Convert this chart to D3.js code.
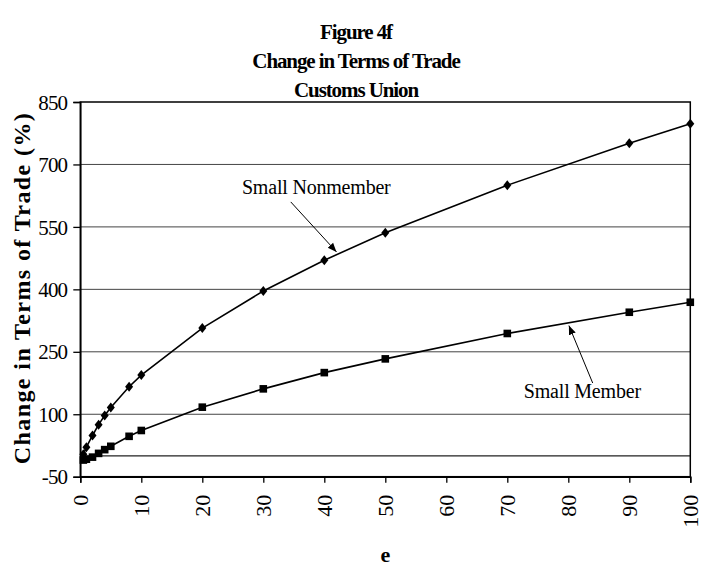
<!DOCTYPE html>
<html>
<head>
<meta charset="utf-8">
<script src="https://cdn.jsdelivr.net/npm/d3@7"></script>
<style>
  html, body { margin: 0; padding: 0; background: #fff; }
  svg { display: block; }
  svg text { font-family: "Liberation Serif", "Times New Roman", serif; }
</style>
</head>
<body>
<svg id="chart" width="713" height="567"></svg>
<script>
// ---- data ----
const titleLines = ["Figure 4f", "Change in Terms of Trade", "Customs Union"];
const xLabel = "e";
const yLabel = "Change in Terms of Trade (%)";
const eValues = [0.5, 1, 2, 3, 4, 5, 8, 10, 20, 30, 40, 50, 70, 90, 100];
const nonmemberValues = [4, 21, 49, 75, 97, 116, 166, 194, 307, 396, 470, 536, 650, 751, 798];
const memberValues = [-10, -8, -3, 6, 15, 23, 47, 61, 117, 161, 200, 233, 294, 345, 369];
const xTicks = [0, 10, 20, 30, 40, 50, 60, 70, 80, 90, 100];
const yTicks = [-50, 100, 250, 400, 550, 700, 850];
const seriesNames = ["Small Nonmember", "Small Member"];
// annotation anchors in data units: [textX, textY, arrowFromX, arrowFromY, arrowToX, arrowToY]
const nonmemberNote = [26.5, 628, 34.5, 610, 42.0, 490];
const memberNote = [82.3, 140, 84.0, 175, 80.1, 313];

// ---- layout ----
const svg = d3.select("#chart");
const pL = 80.3, pR = 690.3, pT = 102, pB = 476.7;
const serif = "'Liberation Serif', 'Times New Roman', serif";

const x = d3.scaleLinear().domain([0, 100]).range([pL, pR]);
const y = d3.scaleLinear().domain([-50, 850]).range([pB, pT]);

svg.append("defs").append("marker")
  .attr("id", "arrow")
  .attr("viewBox", "0 0 10 10")
  .attr("refX", 10).attr("refY", 5)
  .attr("markerWidth", 9).attr("markerHeight", 9)
  .attr("markerUnits", "userSpaceOnUse")
  .attr("orient", "auto")
  .append("path").attr("d", "M0,1 L10,5 L0,9 Z").attr("fill", "#000");

// gridlines
svg.append("g").selectAll("line").data(yTicks.filter(d => d !== -50 && d !== 850)).join("line")
  .attr("x1", pL).attr("x2", pR)
  .attr("y1", d => y(d)).attr("y2", d => y(d))
  .attr("stroke", "#444").attr("stroke-width", 1);

// zero line
svg.append("line")
  .attr("x1", pL).attr("x2", pR)
  .attr("y1", y(0)).attr("y2", y(0))
  .attr("stroke", "#222").attr("stroke-width", 1.2);

// plot frame
svg.append("rect")
  .attr("x", pL).attr("y", pT)
  .attr("width", pR - pL).attr("height", pB - pT)
  .attr("fill", "none").attr("stroke", "#000").attr("stroke-width", 1.5);

// axes
const yAxis = svg.append("g")
  .attr("transform", `translate(${pL},0)`)
  .call(d3.axisLeft(y).tickValues(yTicks).tickSize(7).tickPadding(6).tickFormat(d => String(d)));
yAxis.attr("font-family", null);
yAxis.select(".domain").attr("stroke-width", 1.5);
yAxis.selectAll(".tick line").attr("stroke-width", 1.3);
yAxis.selectAll("text")
  .style("font-family", serif)
  .attr("font-size", 21)
  .attr("letter-spacing", -0.8)
  .attr("fill", "#000")
  .attr("dy", "0.34em");

const xAxis = svg.append("g")
  .attr("transform", `translate(0,${pB})`)
  .call(d3.axisBottom(x).tickValues(xTicks).tickSize(6).tickFormat(d => String(d)));
xAxis.attr("font-family", null);
xAxis.select(".domain").attr("stroke-width", 1.5);
xAxis.selectAll(".tick line").attr("stroke-width", 1.3);
xAxis.selectAll("text")
  .style("font-family", serif)
  .attr("font-size", 22)
  .attr("fill", "#000")
  .attr("text-anchor", "end")
  .attr("transform", "rotate(-90)")
  .attr("x", -18)
  .attr("y", 0)
  .attr("dy", "0.34em");

// series
const nonmember = eValues.map((e, i) => ({ e, v: nonmemberValues[i] }));
const member = eValues.map((e, i) => ({ e, v: memberValues[i] }));
const line = d3.line().x(d => x(d.e)).y(d => y(d.v));

svg.append("path").datum(nonmember)
  .attr("d", line).attr("fill", "none").attr("stroke", "#000").attr("stroke-width", 1.6);
svg.append("path").datum(member)
  .attr("d", line).attr("fill", "none").attr("stroke", "#000").attr("stroke-width", 1.6);

svg.append("g").selectAll("path").data(nonmember).join("path")
  .attr("transform", d => `translate(${x(d.e)},${y(d.v)})`)
  .attr("d", "M0,-5 L4,0 L0,5 L-4,0 Z")
  .attr("fill", "#000");

svg.append("g").selectAll("rect").data(member).join("rect")
  .attr("x", d => x(d.e) - 3.8).attr("y", d => y(d.v) - 3.8)
  .attr("width", 7.6).attr("height", 7.6)
  .attr("fill", "#000");

// annotations
function note(cfg, label) {
  svg.append("text")
    .attr("x", x(cfg[0])).attr("y", y(cfg[1]))
    .attr("text-anchor", label === seriesNames[1] ? "middle" : "start")
    .attr("font-size", 20).attr("letter-spacing", -0.2)
    .attr("fill", "#000")
    .text(label);
  svg.append("line")
    .attr("x1", x(cfg[2])).attr("y1", y(cfg[3]))
    .attr("x2", x(cfg[4])).attr("y2", y(cfg[5]))
    .attr("stroke", "#000").attr("stroke-width", 1)
    .attr("marker-end", "url(#arrow)");
}
note(nonmemberNote, seriesNames[0]);
note(memberNote, seriesNames[1]);

// title
svg.append("g").selectAll("text").data(titleLines).join("text")
  .attr("x", 356).attr("y", (d, i) => 39 + i * 29)
  .attr("text-anchor", "middle")
  .attr("font-weight", "bold").attr("font-size", 21)
  .attr("letter-spacing", -1.1)
  .attr("fill", "#000")
  .text(d => d);

// axis titles
svg.append("text")
  .attr("x", (pL + pR) / 2).attr("y", 562)
  .attr("text-anchor", "middle")
  .attr("font-weight", "bold").attr("font-size", 22)
  .attr("fill", "#000")
  .text(xLabel);

svg.append("text")
  .attr("transform", `translate(30,${288}) rotate(-90)`)
  .attr("text-anchor", "middle")
  .attr("font-weight", "bold").attr("font-size", 24)
  .attr("letter-spacing", 1.4)
  .attr("fill", "#000")
  .text(yLabel);
</script>
</body>
</html>
